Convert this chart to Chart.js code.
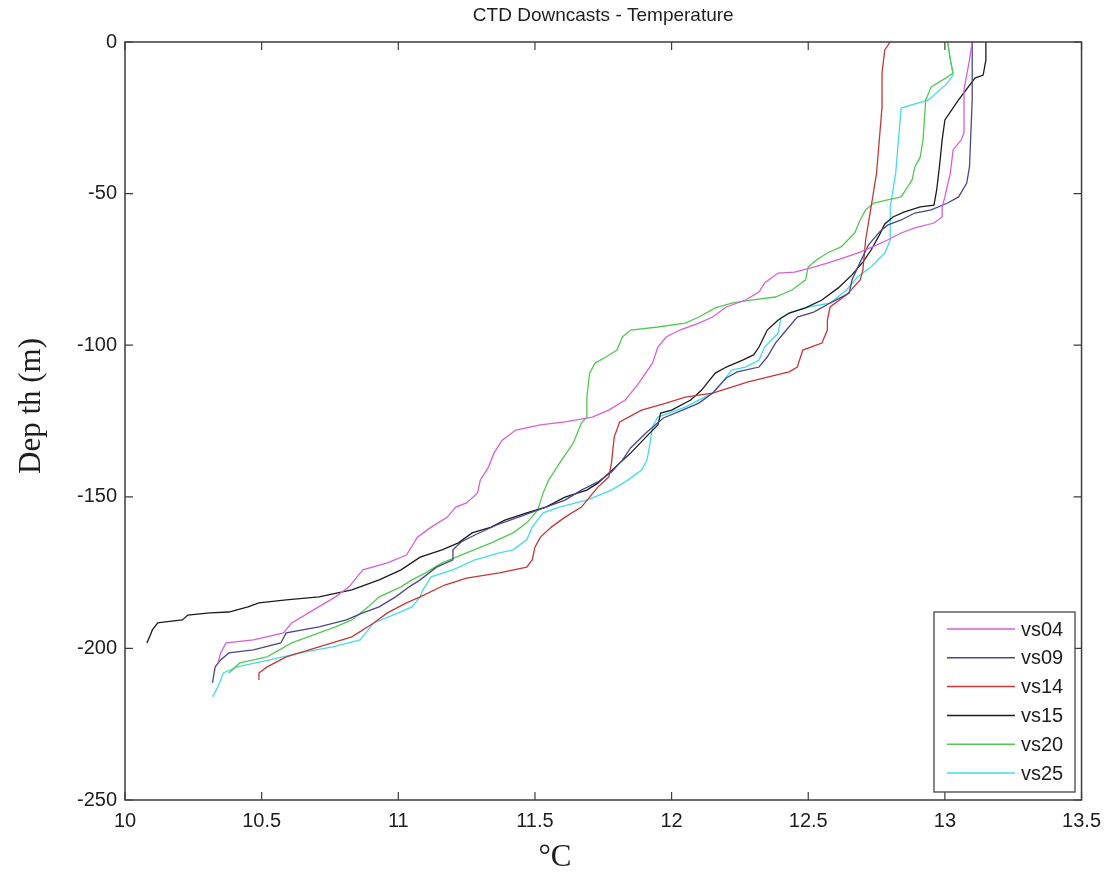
<!DOCTYPE html>
<html>
<head>
<meta charset="utf-8">
<script src="https://cdn.jsdelivr.net/npm/chart.js@4.4.0/dist/chart.umd.min.js"></script>
<style>
  body { margin: 0; background: #fff; }
</style>
</head>
<body>
<canvas id="ctdChart" width="1110" height="876"></canvas>
<script>
// cast names and colours (legend order)
const castNames = ['vs04', 'vs09', 'vs14', 'vs15', 'vs20', 'vs25'];
const castColors = ['rgb(214,96,214)', 'rgb(72,72,140)', 'rgb(196,56,56)', 'rgb(28,28,28)', 'rgb(84,200,84)', 'rgb(70,220,230)'];

const xTicks = [10, 10.5, 11, 11.5, 12, 12.5, 13, 13.5];
const yTicks = [-250, -200, -150, -100, -50, 0];

// temperature (degC) vs depth (m)
const vs04Temp = [13.10, 13.09, 13.07, 13.07, 13.06, 13.03, 13.02, 13.00, 12.99, 12.99, 12.96, 12.89, 12.84, 12.79, 12.75, 12.69, 12.64, 12.57, 12.51, 12.45, 12.39, 12.34, 12.32, 12.27, 12.20, 12.15, 12.10, 12.03, 11.98, 11.95, 11.93, 11.88, 11.83, 11.77, 11.71, 11.61, 11.52, 11.43, 11.38, 11.35, 11.33, 11.30, 11.29, 11.25, 11.21, 11.18, 11.12, 11.07, 11.03, 10.96, 10.87, 10.82, 10.77, 10.69, 10.61, 10.58, 10.47, 10.37, 10.35, 10.34];
const vs04Depth = [0, -5.9, -15.8, -30.0, -32.3, -35.6, -43.2, -51.1, -54.4, -57.7, -59.7, -61.3, -63.0, -65.3, -67.0, -69.3, -70.9, -72.9, -74.5, -75.9, -76.2, -79.5, -82.5, -85.1, -87.4, -90.7, -92.7, -95.0, -97.3, -100.6, -105.9, -112.5, -118.1, -121.4, -123.7, -125.3, -126.3, -128.0, -131.3, -135.6, -140.2, -144.5, -148.7, -152.0, -153.4, -156.7, -160.0, -163.3, -169.2, -171.8, -174.1, -179.7, -183.0, -187.3, -191.6, -194.9, -197.2, -198.2, -201.5, -204.8];

const vs09Temp = [13.10, 13.10, 13.09, 13.08, 13.05, 13.01, 12.95, 12.89, 12.84, 12.79, 12.76, 12.72, 12.69, 12.66, 12.65, 12.58, 12.52, 12.46, 12.42, 12.38, 12.35, 12.32, 12.24, 12.20, 12.15, 12.10, 12.04, 11.97, 11.91, 11.85, 11.82, 11.78, 11.73, 11.67, 11.61, 11.53, 11.44, 11.36, 11.28, 11.23, 11.20, 11.20, 11.14, 11.08, 11.04, 10.99, 10.93, 10.87, 10.81, 10.71, 10.59, 10.57, 10.47, 10.38, 10.35, 10.33, 10.32];
const vs09Depth = [0, -19.1, -41.2, -46.5, -51.1, -53.1, -55.4, -56.4, -58.7, -60.4, -62.7, -67.0, -72.6, -78.5, -82.8, -86.1, -89.1, -90.7, -95.0, -99.3, -103.9, -107.2, -108.8, -110.8, -115.8, -119.1, -121.4, -124.0, -128.6, -133.9, -137.9, -141.8, -145.1, -147.8, -151.1, -153.7, -156.7, -159.3, -162.6, -164.9, -167.5, -170.8, -173.2, -177.4, -179.7, -183.0, -186.3, -188.3, -190.6, -192.9, -194.9, -198.2, -200.5, -201.5, -203.8, -206.1, -211.4];

const vs14Temp = [12.80, 12.78, 12.77, 12.77, 12.76, 12.75, 12.73, 12.71, 12.70, 12.69, 12.64, 12.58, 12.57, 12.57, 12.55, 12.48, 12.46, 12.43, 12.34, 12.28, 12.22, 12.15, 12.05, 11.98, 11.89, 11.81, 11.79, 11.78, 11.77, 11.73, 11.70, 11.67, 11.61, 11.56, 11.52, 11.50, 11.49, 11.47, 11.37, 11.25, 11.17, 11.08, 11.03, 10.96, 10.91, 10.83, 10.71, 10.59, 10.52, 10.49, 10.49];
const vs14Depth = [0, -2.6, -10.2, -21.4, -32.3, -43.2, -54.4, -65.3, -75.2, -78.5, -83.4, -87.4, -91.7, -95.0, -99.3, -101.6, -107.2, -108.8, -110.8, -112.1, -113.8, -115.8, -117.1, -119.1, -121.4, -125.3, -130.3, -138.9, -143.5, -146.8, -150.1, -153.4, -156.7, -160.0, -163.3, -166.6, -170.8, -173.2, -175.1, -176.8, -179.1, -183.0, -185.0, -188.3, -191.6, -196.2, -199.5, -202.8, -206.1, -208.1, -210.4];

const vs15Temp = [13.15, 13.15, 13.14, 13.11, 13.05, 13.00, 12.99, 12.98, 12.97, 12.96, 12.91, 12.85, 12.81, 12.78, 12.76, 12.73, 12.70, 12.66, 12.61, 12.55, 12.49, 12.43, 12.39, 12.35, 12.32, 12.30, 12.26, 12.20, 12.16, 12.13, 12.11, 12.07, 12.00, 11.96, 11.95, 11.92, 11.85, 11.81, 11.77, 11.73, 11.69, 11.61, 11.54, 11.47, 11.39, 11.34, 11.27, 11.22, 11.16, 11.08, 11.01, 10.93, 10.83, 10.71, 10.59, 10.49, 10.45, 10.38, 10.31, 10.23, 10.21, 10.14, 10.12, 10.10, 10.09, 10.08];
const vs15Depth = [0, -5.9, -10.9, -11.9, -19.1, -25.7, -32.3, -41.2, -48.8, -53.8, -54.4, -56.1, -57.7, -60.0, -63.7, -68.6, -72.6, -76.8, -81.1, -85.1, -87.7, -89.4, -91.7, -95.0, -100.6, -103.2, -104.9, -107.2, -109.2, -112.5, -114.8, -118.1, -121.4, -122.4, -126.3, -129.0, -135.6, -138.9, -142.2, -145.5, -147.8, -150.1, -153.4, -155.3, -157.7, -160.0, -161.9, -165.2, -167.5, -169.9, -174.1, -177.4, -180.7, -183.0, -184.0, -185.0, -186.3, -188.0, -188.3, -189.0, -190.6, -191.3, -191.6, -193.9, -196.2, -198.2];

const vs20Temp = [13.01, 13.02, 13.03, 13.01, 12.95, 12.93, 12.92, 12.91, 12.89, 12.88, 12.84, 12.79, 12.74, 12.71, 12.69, 12.67, 12.62, 12.57, 12.53, 12.50, 12.49, 12.44, 12.38, 12.29, 12.22, 12.16, 12.10, 12.05, 11.95, 11.85, 11.82, 11.80, 11.76, 11.72, 11.70, 11.69, 11.69, 11.67, 11.64, 11.59, 11.55, 11.53, 11.51, 11.47, 11.42, 11.34, 11.25, 11.16, 11.10, 11.05, 11.01, 10.93, 10.89, 10.83, 10.77, 10.71, 10.61, 10.52, 10.42, 10.38];
const vs20Depth = [0, -5.9, -10.2, -11.5, -14.8, -19.1, -32.3, -37.9, -41.2, -45.5, -51.1, -52.1, -53.1, -55.4, -58.7, -63.0, -67.6, -69.6, -71.9, -74.2, -78.5, -81.8, -84.1, -85.1, -86.1, -87.7, -90.7, -92.7, -94.0, -95.0, -97.3, -101.6, -103.9, -105.9, -109.2, -117.1, -123.7, -125.7, -132.3, -138.9, -144.5, -148.7, -154.4, -158.6, -161.9, -165.2, -168.5, -171.8, -175.1, -177.4, -179.7, -183.0, -186.3, -190.6, -192.9, -194.9, -198.2, -202.8, -204.8, -208.1];

const vs25Temp = [13.01, 13.02, 13.03, 13.01, 12.94, 12.84, 12.83, 12.82, 12.80, 12.80, 12.78, 12.73, 12.68, 12.64, 12.58, 12.50, 12.44, 12.40, 12.39, 12.34, 12.32, 12.27, 12.22, 12.20, 12.17, 12.15, 12.10, 12.05, 11.95, 11.93, 11.92, 11.91, 11.89, 11.84, 11.78, 11.69, 11.59, 11.53, 11.49, 11.47, 11.42, 11.37, 11.28, 11.20, 11.12, 11.09, 11.08, 11.05, 11.00, 10.91, 10.86, 10.76, 10.64, 10.53, 10.41, 10.36, 10.34, 10.32];
const vs25Depth = [0, -5.9, -10.9, -13.5, -19.1, -21.8, -32.3, -43.2, -54.4, -65.3, -69.6, -74.2, -77.5, -81.8, -86.1, -87.4, -89.1, -91.0, -96.0, -100.6, -104.9, -107.2, -108.2, -110.5, -113.8, -115.8, -118.1, -120.4, -123.7, -127.0, -132.9, -137.9, -141.2, -144.5, -147.8, -151.1, -153.4, -155.3, -160.0, -164.2, -167.5, -168.5, -170.8, -174.1, -176.4, -180.7, -183.0, -186.3, -188.3, -191.6, -197.2, -199.5, -201.5, -203.8, -206.1, -208.1, -212.7, -216.0];

const temps = [vs04Temp, vs09Temp, vs14Temp, vs15Temp, vs20Temp, vs25Temp];
const depths = [vs04Depth, vs09Depth, vs14Depth, vs15Depth, vs20Depth, vs25Depth];

function toPoints(t, d) {
  return t.map((v, i) => ({ x: v, y: d[i] }));
}

const datasets = castNames.map((name, i) => ({
  label: name,
  data: toPoints(temps[i], depths[i]),
  borderColor: castColors[i],
  borderWidth: 1.3,
  showLine: true,
  pointRadius: 0,
  tension: 0
}));

// matlab style frame, inward ticks, titles and legend box
const matlabFrame = {
  id: 'matlabFrame',
  afterDraw(chart) {
    const ctx = chart.ctx;
    const a = chart.chartArea;
    const xs = chart.scales.x;
    const ys = chart.scales.y;
    ctx.save();
    ctx.strokeStyle = 'rgb(60,60,60)';
    ctx.lineWidth = 1.5;
    ctx.strokeRect(a.left, a.top, a.right - a.left, a.bottom - a.top);

    ctx.lineWidth = 1.2;
    ctx.beginPath();
    xTicks.forEach(v => {
      const px = xs.getPixelForValue(v);
      ctx.moveTo(px, a.bottom); ctx.lineTo(px, a.bottom - 8);
      ctx.moveTo(px, a.top); ctx.lineTo(px, a.top + 8);
    });
    yTicks.forEach(v => {
      const py = ys.getPixelForValue(v);
      ctx.moveTo(a.left, py); ctx.lineTo(a.left + 8, py);
      ctx.moveTo(a.right, py); ctx.lineTo(a.right - 8, py);
    });
    ctx.stroke();

    // title
    ctx.fillStyle = 'rgb(30,30,30)';
    ctx.font = '19px "Liberation Sans", Arial, sans-serif';
    ctx.textAlign = 'center';
    ctx.textBaseline = 'middle';
    ctx.fillText('CTD Downcasts - Temperature', (a.left + a.right) / 2, 16);

    // axis titles
    ctx.font = '31px "Liberation Serif", "Times New Roman", serif';
    ctx.fillText('\u00B0C', 555, 858);
    ctx.save();
    ctx.translate(32, 406);
    ctx.rotate(-Math.PI / 2);
    ctx.fillText('Dep th (m)', 0, 0);
    ctx.restore();

    // legend
    const lx = 934, ly = 612, lw = 141, lh = 180;
    ctx.fillStyle = '#fff';
    ctx.fillRect(lx, ly, lw, lh);
    ctx.strokeStyle = 'rgb(70,70,70)';
    ctx.lineWidth = 1.3;
    ctx.strokeRect(lx, ly, lw, lh);
    ctx.font = '20px "Liberation Sans", Arial, sans-serif';
    ctx.textAlign = 'left';
    chart.data.datasets.forEach((ds, i) => {
      const yy = ly + 17 + i * 28.8;
      ctx.strokeStyle = ds.borderColor;
      ctx.lineWidth = 1.5;
      ctx.beginPath();
      ctx.moveTo(lx + 13, yy);
      ctx.lineTo(lx + 81, yy);
      ctx.stroke();
      ctx.fillStyle = 'rgb(30,30,30)';
      ctx.fillText(ds.label, lx + 87, yy + 1);
    });
    ctx.restore();
  }
};

const ctx = document.getElementById('ctdChart').getContext('2d');
const chart = new Chart(ctx, {
  type: 'scatter',
  data: { datasets: datasets },
  options: {
    responsive: false,
    animation: false,
    layout: { padding: { left: 0, top: 42, right: 26, bottom: 0 } },
    plugins: {
      legend: { display: false },
      tooltip: { enabled: false }
    },
    scales: {
      x: {
        type: 'linear',
        min: 10,
        max: 13.5,
        afterFit: s => { s.height = 76; },
        afterBuildTicks: s => { s.ticks = xTicks.map(v => ({ value: v })); },
        grid: { display: false, drawTicks: false },
        border: { display: false },
        ticks: {
          padding: 9,
          color: 'rgb(30,30,30)',
          font: { family: '"Liberation Sans", Arial, sans-serif', size: 20 },
          maxRotation: 0,
          callback: v => String(v)
        }
      },
      y: {
        type: 'linear',
        min: -250,
        max: 0,
        afterFit: s => { s.width = 125; },
        afterBuildTicks: s => { s.ticks = yTicks.map(v => ({ value: v })); },
        grid: { display: false, drawTicks: false },
        border: { display: false },
        ticks: {
          padding: 8,
          color: 'rgb(30,30,30)',
          font: { family: '"Liberation Sans", Arial, sans-serif', size: 20 },
          callback: v => String(v)
        }
      }
    }
  },
  plugins: [matlabFrame]
});
</script>
</body>
</html>
